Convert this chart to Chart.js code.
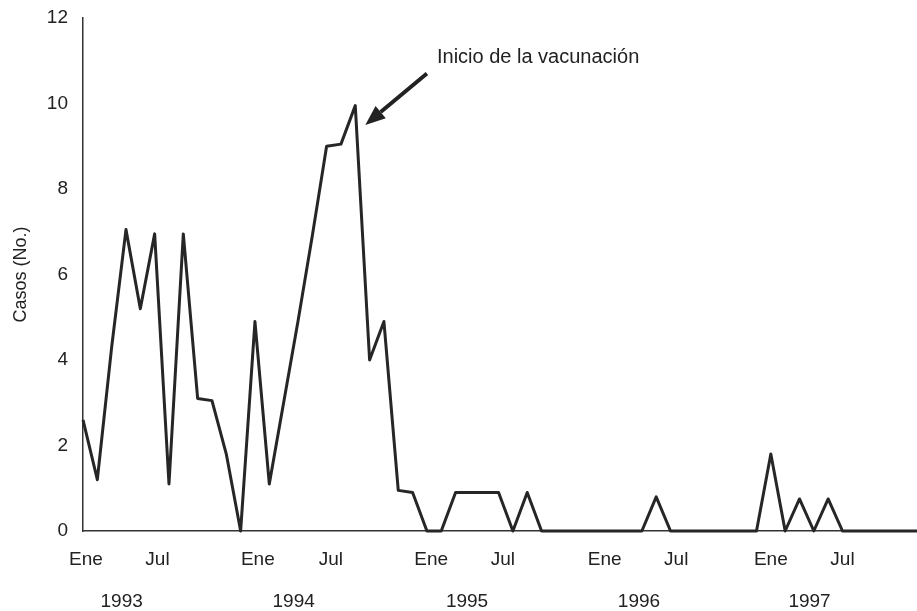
<!DOCTYPE html>
<html>
<head>
<meta charset="utf-8">
<script src="https://cdn.jsdelivr.net/npm/chart.js@4/dist/chart.umd.min.js"></script>
<style>
  html, body { margin: 0; padding: 0; background: #ffffff; }
  canvas { display: block; }
</style>
</head>
<body>
<canvas id="c" width="917" height="611"></canvas>
<script>
// Monthly cases, Jan 1993 onwards (month index 0 = Ene 1993)
const cases = [
  2.6, 1.2, 4.3, 7.05, 5.2, 6.95, 1.1, 6.95, 3.1, 3.05, 1.8, 0,      // 1993
  4.9, 1.1, 3.0, 4.9, 6.9, 9.0, 9.05, 9.95, 4.0, 4.9, 0.95, 0.9,     // 1994
  0, 0, 0.9, 0.9, 0.9, 0.9, 0, 0.9, 0, 0, 0, 0,                      // 1995
  0, 0, 0, 0, 0.8, 0, 0, 0, 0, 0, 0, 0,                              // 1996
  1.8, 0, 0.75, 0, 0.75, 0, 0, 0, 0, 0, 0, 0                         // 1997
];
const monthLabels = ['Ene', 'Jul', 'Ene', 'Jul', 'Ene', 'Jul', 'Ene', 'Jul', 'Ene', 'Jul'];
const monthTickPos = [0.2, 5.2, 12.2, 17.3, 24.3, 29.3, 36.4, 41.4, 48.0, 53.0];
const yearLabels = ['1993', '1994', '1995', '1996', '1997'];
const yearTickPos = [2.7, 14.7, 26.8, 38.8, 50.7];
const annotationText = 'Inicio de la vacunación';
const annotationTail = [24.0, 10.7];
const annotationTip = [19.7, 9.5];
const annotationTextAt = [24.7, 10.95];

const FONT = '"Liberation Sans", Arial, Helvetica, sans-serif';
const INK = '#222222';

const annotationPlugin = {
  id: 'vacunacion',
  afterDatasetsDraw(chart) {
    const ctx = chart.ctx, xs = chart.scales.x, ys = chart.scales.y;
    const tx = xs.getPixelForValue(annotationTail[0]), ty = ys.getPixelForValue(annotationTail[1]);
    const px = xs.getPixelForValue(annotationTip[0]), py = ys.getPixelForValue(annotationTip[1]);
    const ang = Math.atan2(py - ty, px - tx);
    const headLen = 20, headHalf = 8;
    const bx = px - headLen * Math.cos(ang), by = py - headLen * Math.sin(ang);
    ctx.save();
    ctx.strokeStyle = INK; ctx.fillStyle = INK;
    ctx.lineWidth = 4; ctx.lineCap = 'butt';
    ctx.beginPath(); ctx.moveTo(tx, ty); ctx.lineTo(bx, by); ctx.stroke();
    ctx.beginPath();
    ctx.moveTo(px, py);
    ctx.lineTo(bx + headHalf * Math.sin(ang), by - headHalf * Math.cos(ang));
    ctx.lineTo(bx - headHalf * Math.sin(ang), by + headHalf * Math.cos(ang));
    ctx.closePath(); ctx.fill();
    ctx.font = '20px ' + FONT;
    ctx.textAlign = 'left'; ctx.textBaseline = 'alphabetic';
    ctx.fillText(annotationText, xs.getPixelForValue(annotationTextAt[0]), ys.getPixelForValue(annotationTextAt[1]));
    ctx.restore();
  }
};

new Chart(document.getElementById('c'), {
  type: 'line',
  data: {
    datasets: [{
      data: cases.map((v, i) => ({ x: i, y: v })),
      borderColor: '#262626',
      borderWidth: 3,
      pointRadius: 0,
      tension: 0,
      clip: false,
      borderJoinStyle: 'round'
    }]
  },
  options: {
    responsive: false,
    devicePixelRatio: 1,
    animation: false,
    layout: { padding: { top: 18, right: 0, bottom: 0, left: 0 } },
    plugins: { legend: { display: false }, tooltip: { enabled: false } },
    scales: {
      x: {
        type: 'linear', position: 'bottom', min: 0, max: 58.2, weight: 0,
        grid: { display: false, drawTicks: false },
        border: { display: true, color: '#333333', width: 1.5 },
        afterBuildTicks: (axis) => { axis.ticks = monthTickPos.map(v => ({ value: v })); },
        afterFit: (axis) => { axis.height = 40; },
        ticks: {
          autoSkip: false, maxRotation: 0, padding: 17, color: INK,
          font: { family: FONT, size: 19 },
          callback: (value, index) => monthLabels[index]
        }
      },
      x2: {
        type: 'linear', position: 'bottom', min: 0, max: 58.2, weight: 1,
        grid: { display: false, drawTicks: false },
        border: { display: false },
        afterBuildTicks: (axis) => { axis.ticks = yearTickPos.map(v => ({ value: v })); },
        afterFit: (axis) => { axis.height = 40; },
        ticks: {
          autoSkip: false, maxRotation: 0, padding: 19, color: INK,
          font: { family: FONT, size: 19 },
          callback: (value, index) => yearLabels[index]
        }
      },
      y: {
        min: 0, max: 12,
        grid: { display: false, drawTicks: false },
        border: { display: true, color: '#333333', width: 1.5 },
        afterFit: (axis) => { axis.width = 83; axis.paddingTop = 0; axis.paddingBottom = 0; },
        ticks: { stepSize: 2, padding: 15, color: INK, font: { family: FONT, size: 19 } },
        title: {
          display: true, text: 'Casos (No.)', color: INK,
          font: { family: FONT, size: 18 },
          padding: { top: 10, bottom: 0 }
        }
      }
    }
  },
  plugins: [annotationPlugin]
});
</script>
</body>
</html>
